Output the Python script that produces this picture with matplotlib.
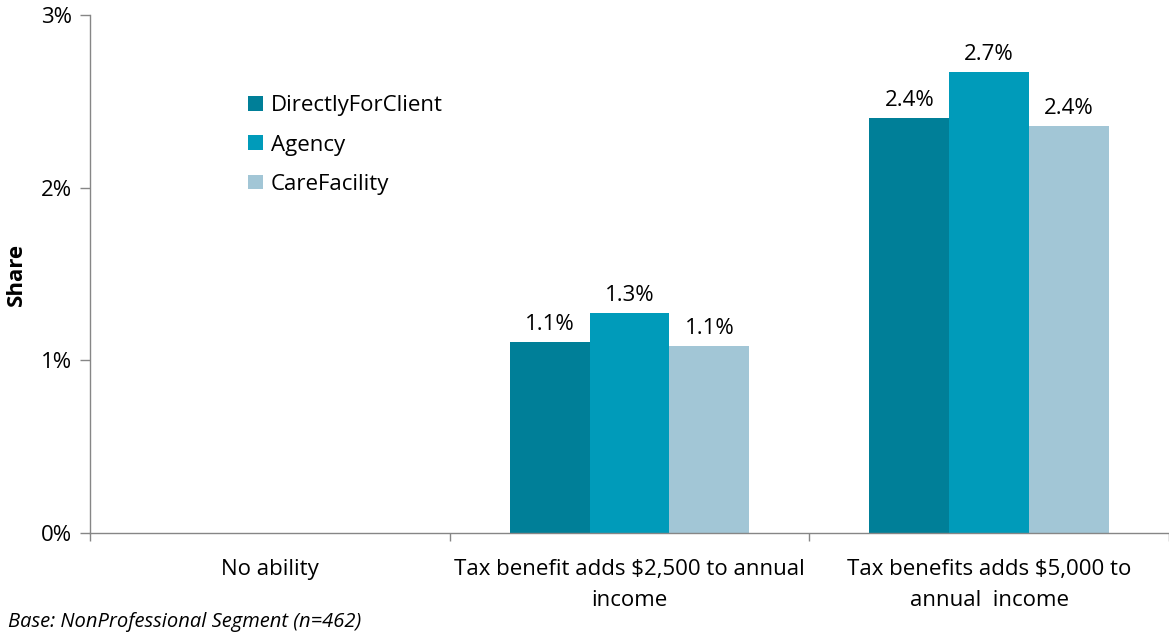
import matplotlib
matplotlib.use("Agg")
import matplotlib.pyplot as plt
import numpy as np
from matplotlib.ticker import FixedLocator, NullFormatter

plt.rcParams['font.family'] = ['Open Sans', 'DejaVu Sans']

categories = ["No ability",
              "Tax benefit adds $2,500 to annual\nincome",
              "Tax benefits adds $5,000 to\nannual  income"]
series_names = ["DirectlyForClient", "Agency", "CareFacility"]
directly_for_client = [None, 1.106, 2.403]
agency = [None, 1.274, 2.669]
care_facility = [None, 1.083, 2.357]
value_labels = [[None, "1.1%", "2.4%"],
                [None, "1.3%", "2.7%"],
                [None, "1.1%", "2.4%"]]
colors = ["#007F98", "#009BBA", "#A2C6D6"]
y_ticks = [0, 1, 2, 3]

FS = 16

fig = plt.figure(figsize=(11.69, 6.37), dpi=100)
ax = fig.add_axes([90 / 1169, 1 - 533 / 637, 1079 / 1169, (533 - 15) / 637])

x = np.arange(len(categories))
width = 0.222
series = [directly_for_client, agency, care_facility]
for i, (name, vals, col) in enumerate(zip(series_names, series, colors)):
    xs = [xi + (i - 1) * width for xi, v in zip(x, vals) if v is not None]
    hs = [v for v in vals if v is not None]
    labs = [l for l, v in zip(value_labels[i], vals) if v is not None]
    bars = ax.bar(xs, hs, width=width, color=col, label=name, zorder=2)
    for b, lab in zip(bars, labs):
        ax.annotate(lab, (b.get_x() + b.get_width() / 2, b.get_height()),
                    xytext=(0, 5), textcoords="offset points",
                    ha="center", va="bottom", fontsize=FS, color="#000000")

ax.set_xlim(-0.5, 2.5)
ax.set_ylim(0, 3)
ax.set_yticks(y_ticks)
ax.set_yticklabels([f"{t}%" for t in y_ticks], fontsize=FS)
ax.set_xticks(x)
ax.set_xticklabels(categories, fontsize=FS, linespacing=1.6)
ax.tick_params(axis="x", which="major", length=0, pad=19)
ax.xaxis.set_minor_locator(FixedLocator([-0.5, 0.5, 1.5, 2.5]))
ax.xaxis.set_minor_formatter(NullFormatter())
ax.tick_params(axis="x", which="minor", length=6, color="#868686", width=1)
ax.tick_params(axis="y", length=7, color="#868686", width=1, pad=6)

for s in ["top", "right"]:
    ax.spines[s].set_visible(False)
for s in ["left", "bottom"]:
    ax.spines[s].set_color("#868686")
    ax.spines[s].set_linewidth(1)

ax.set_ylabel("Share", fontsize=FS, fontweight="bold", labelpad=10)

leg = ax.legend(loc="upper left", bbox_to_anchor=(0.1385, 0.862), frameon=False,
                fontsize=FS, handlelength=0.65, handleheight=0.65,
                handletextpad=0.35, labelspacing=0.82, borderaxespad=0)

fig.text(8 / 1169, 1 - 622 / 637, "Base: NonProfessional Segment (n=462)",
         fontsize=14.5, style="italic", ha="left", va="center")

fig.savefig("out.png", dpi=100)
